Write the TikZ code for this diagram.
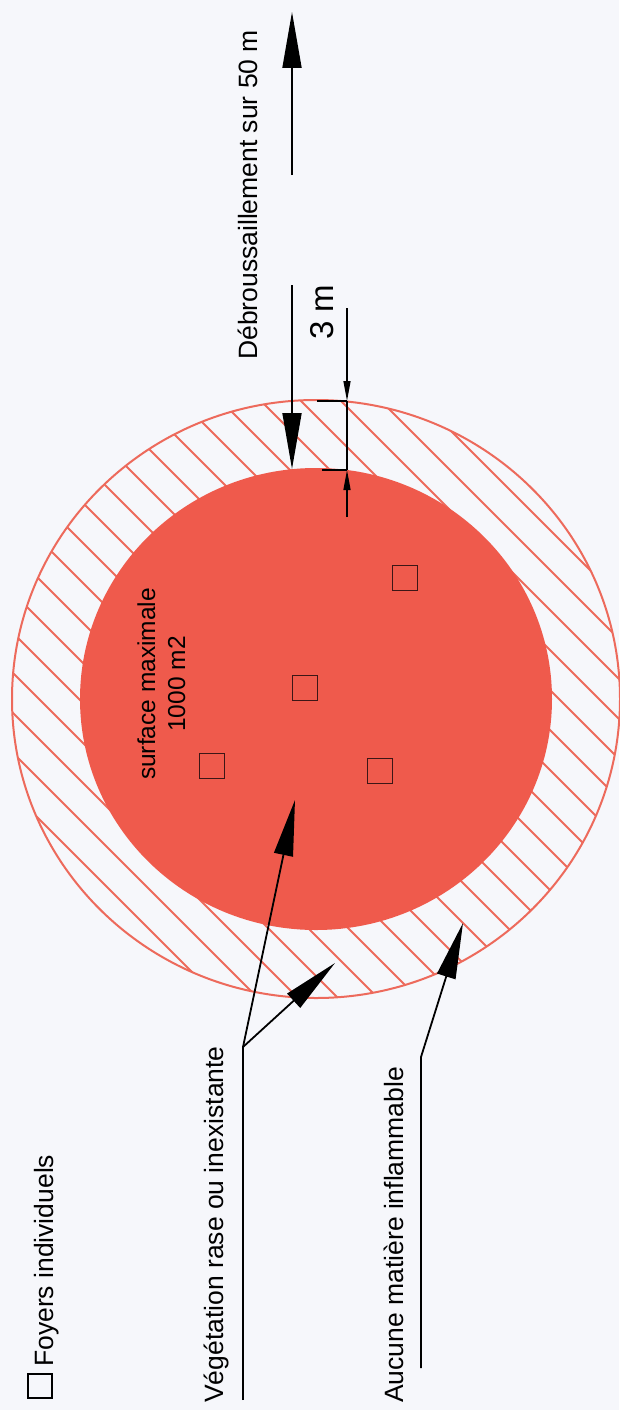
\documentclass[tikz,border=0pt]{standalone}
\usepackage{fontspec}
\setmainfont{Liberation Sans}
\usepackage{xcolor}
\usepackage{tikz}
\usetikzlibrary{arrows.meta,positioning}

\definecolor{zonered}{RGB}{239,90,76}
\definecolor{hatchred}{RGB}{237,106,92}
\definecolor{paper}{RGB}{246,247,251}
\definecolor{boxline}{RGB}{60,22,22}

\newcommand{\lblsize}{\fontsize{26.5}{30}\selectfont}
\newcommand{\surfsize}{\fontsize{24.5}{28}\selectfont}
\newcommand{\cotesize}{\fontsize{33}{36}\selectfont}

\tikzset{
  lbl/.style={rotate=90,anchor=base west,inner sep=0pt},
  foyer/.style={draw=boxline,line width=1.5pt,minimum size=25pt,inner sep=0pt},
  lead/.style={line width=1.8pt,-{Triangle[length=56pt,width=19pt]}},
  cote/.style={line width=1.4pt,-{Triangle[length=20pt,width=7pt]}},
}

\begin{document}
\begin{tikzpicture}[font=\lblsize,x=1pt,y=-1pt]
\fill[paper] (0,0) rectangle (619,1410);
\useasboundingbox (0,0) rectangle (619,1410);
\coordinate (centre) at (316,699);
% anneau hachure
\begin{scope}
\clip (centre) ellipse [x radius=304pt,y radius=299pt];
\foreach \i in {-1020,-980,...,260} \draw[hatchred,line width=2pt] (\i,0) -- ++(1410,1410);
\end{scope}
\draw[hatchred,line width=2pt] (centre) ellipse [x radius=304pt,y radius=299pt];
\fill[zonered] (centre) ellipse [x radius=236pt,y radius=231pt];
% foyers
\node[foyer] (f1) at (405,578) {};
\node[foyer] (f2) at (305,688) {};
\node[foyer] (f3) at (212,766) {};
\node[foyer] (f4) at (380,771) {};
\node[rotate=90,anchor=base,inner sep=0pt,font=\surfsize] (surf) at (155,684) {surface maximale};
\node[rotate=90,anchor=base,inner sep=0pt,font=\surfsize] (surfval) at (185,684) {1000 m2};
% textes
\node[lbl] (deb) at (257,360) {Débroussaillement sur 50 m};
\node[lbl,font=\cotesize] (trois) at (333,340) {3 m};
\node[lbl] (veg) at (223,1403) {Végétation rase ou inexistante};
\node[lbl] (auc) at (403,1403) {Aucune matière inflammable};
\node[lbl] (leg) at (53,1367) {Foyers individuels};
\node[draw,line width=1.5pt,minimum size=24pt,inner sep=0pt] (legbox) at (40,1386) {};
% debroussaillement
\coordinate (debA) at (292,175);
\coordinate (debEnd) at (292,12);
\coordinate (debB) at (292,285);
\coordinate (innerTop) at (292,469);
\draw[lead] (debA) -- (debEnd);
\draw[lead] (debB) -- (innerTop);
% cote 3 m
\coordinate (coteA) at (347,308);
\coordinate (coteB) at (347,517);
\coordinate (outerTop) at (347,401);
\coordinate (innerTopR) at (347,470);
\coordinate (extA) at (317,401);
\coordinate (extB) at (322,470);
\draw[cote] (coteA) -- (outerTop);
\draw[cote] (coteB) -- (innerTopR);
\draw[line width=1.4pt] (outerTop) -- (innerTopR);
\draw[line width=1.4pt] (extA) -- (outerTop);
\draw[line width=1.4pt] (extB) -- (innerTopR);
% renvois
\coordinate (vegFoot) at (243,1400);
\coordinate (vegKnee) at (243,1047);
\coordinate (vegTipA) at (295,800);
\coordinate (vegTipB) at (335,963);
\draw[line width=1.8pt] (vegFoot) -- (vegKnee);
\draw[lead] (vegKnee) -- (vegTipA);
\draw[lead] (vegKnee) -- (vegTipB);
\coordinate (aucFoot) at (421,1368);
\coordinate (aucKnee) at (421,1057);
\coordinate (aucTip) at (463,923);
\draw[lead] (aucFoot) -- (aucKnee) -- (aucTip);
\end{tikzpicture}
\end{document}
